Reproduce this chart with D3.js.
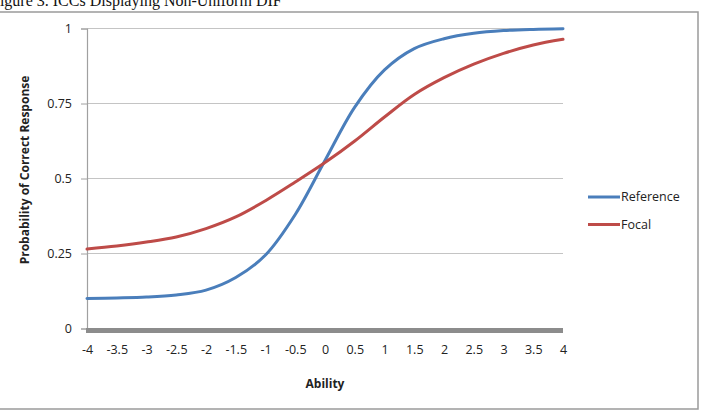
<!DOCTYPE html>
<html lang="en">
<head>
    <meta charset="UTF-8">
    <script src="https://d3js.org/d3.v7.min.js"></script>
    <style>
        body {
            margin: 0;
            background-color: #ffffff;
            overflow: hidden;
        }
        svg text {
            font-family: "Open Sans", "Noto Sans", sans-serif;
            fill: #222;
        }
    </style>
</head>
<body>
    <div id="chart"></div>

    <script>
        // values
        const abilities = [-4, -3.5, -3, -2.5, -2, -1.5, -1, -0.5, 0, 0.5, 1, 1.5, 2, 2.5, 3, 3.5, 4];
        const referenceProb = [0.100, 0.102, 0.105, 0.112, 0.128, 0.170, 0.245, 0.380, 0.560, 0.738, 0.862, 0.933, 0.966, 0.984, 0.993, 0.997, 0.999];
        const focalProb = [0.265, 0.275, 0.288, 0.305, 0.333, 0.372, 0.426, 0.488, 0.553, 0.625, 0.705, 0.780, 0.836, 0.881, 0.917, 0.945, 0.964];
        const xTicks = [-4, -3.5, -3, -2.5, -2, -1.5, -1, -0.5, 0, 0.5, 1, 1.5, 2, 2.5, 3, 3.5, 4];
        const yTicks = [0, 0.25, 0.5, 0.75, 1];
        const seriesNames = ["Reference", "Focal"];
        const seriesColors = ["#4a7ebb", "#be4b48"];

        const W = 702, H = 413;
        const plot = { left: 87, right: 563, top: 28.5, bottom: 328.5 };

        const svg = d3.select("#chart")
            .append("svg")
            .attr("width", W)
            .attr("height", H);

        // caption (cut off at the top in the original)
        svg.append("text")
            .attr("x", -9)
            .attr("y", 6)
            .style("font-family", "'Liberation Serif', 'DejaVu Serif', serif")
            .style("font-size", "16px")
            .style("fill", "#111")
            .text("Figure 3. ICCs Displaying Non-Uniform DIF");

        // chart frame
        svg.append("rect")
            .attr("x", -5)
            .attr("y", 12)
            .attr("width", 703)
            .attr("height", 397)
            .attr("fill", "none")
            .attr("stroke", "#9a9a9a")
            .attr("stroke-width", 1.5);

        const x = d3.scaleLinear()
            .domain([-4, 4])
            .range([plot.left, plot.right]);

        const y = d3.scaleLinear()
            .domain([0, 1])
            .range([plot.bottom, plot.top]);

        // gridlines
        svg.append("g")
            .selectAll("line")
            .data(yTicks.filter(d => d > 0))
            .enter()
            .append("line")
            .attr("x1", plot.left)
            .attr("x2", plot.right)
            .attr("y1", d => y(d))
            .attr("y2", d => y(d))
            .attr("stroke", "#c4c4c4")
            .attr("stroke-width", 1.2);

        // y axis
        const yAxis = svg.append("g")
            .attr("transform", `translate(${plot.left},0)`)
            .call(d3.axisLeft(y).tickValues(yTicks).tickSize(6).tickPadding(9)
                .tickFormat(d => String(d)));
        yAxis.select(".domain").attr("stroke", "#a0a0a0").attr("stroke-width", 1.2);
        yAxis.selectAll(".tick line").attr("stroke", "#a0a0a0");
        yAxis.selectAll("text")
            .style("font-size", "12.5px")
            .style("fill", "#222");

        // x axis (thick grey base line like the original)
        const xAxis = svg.append("g")
            .attr("transform", `translate(0,${plot.bottom})`)
            .call(d3.axisBottom(x).tickValues(xTicks).tickSize(0).tickPadding(17)
                .tickFormat(d => String(d)));
        xAxis.select(".domain").remove();
        xAxis.selectAll("text")
            .style("font-size", "12.5px")
            .style("fill", "#222");

        svg.append("line")
            .attr("x1", plot.left - 1)
            .attr("x2", plot.right)
            .attr("y1", plot.bottom + 2)
            .attr("y2", plot.bottom + 2)
            .attr("stroke", "#8c8c8c")
            .attr("stroke-width", 5);

        // axis titles
        svg.append("text")
            .attr("x", 325)
            .attr("y", 388)
            .attr("text-anchor", "middle")
            .style("font-size", "12px")
            .style("font-weight", "bold")
            .text("Ability");

        svg.append("text")
            .attr("transform", "translate(29,170) rotate(-90)")
            .attr("text-anchor", "middle")
            .style("font-size", "12px")
            .style("font-weight", "bold")
            .text("Probability of Correct Response");

        // curves
        const series = [referenceProb, focalProb];
        const line = d3.line()
            .x((d, i) => x(abilities[i]))
            .y(d => y(d))
            .curve(d3.curveCatmullRom.alpha(0.5));

        svg.append("g")
            .selectAll("path")
            .data(series)
            .enter()
            .append("path")
            .attr("d", d => line(d))
            .attr("fill", "none")
            .attr("stroke", (d, i) => seriesColors[i])
            .attr("stroke-width", 3)
            .attr("stroke-linecap", "round");

        // legend
        const legend = svg.append("g")
            .selectAll("g")
            .data(seriesNames)
            .enter()
            .append("g")
            .attr("transform", (d, i) => `translate(588,${197 + i * 27.5})`);

        legend.append("line")
            .attr("x1", 0)
            .attr("x2", 32)
            .attr("stroke", (d, i) => seriesColors[i])
            .attr("stroke-width", 3);

        legend.append("text")
            .attr("x", 33)
            .attr("dy", "0.35em")
            .style("font-size", "12.5px")
            .text(d => d);
    </script>
</body>
</html>
